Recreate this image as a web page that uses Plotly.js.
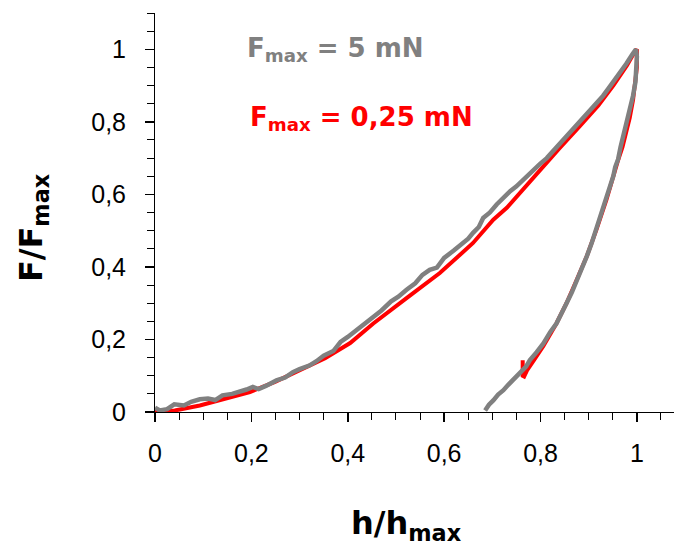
<!DOCTYPE html>
<html>
<head>
<meta charset="utf-8">
<script src="https://cdn.plot.ly/plotly-3.0.1.min.js"></script>
<style>html,body{margin:0;padding:0;background:#fff;}#chart{width:674px;height:548px;}</style>
</head>
<body>
<div id="chart"></div>
<script>
// Fmax = 5 mN (gray) : loading then unloading
const grayH = [0, 0.01, 0.025, 0.04, 0.06, 0.075, 0.093, 0.11, 0.125, 0.14, 0.16, 0.176, 0.19, 0.203, 0.215, 0.23, 0.252, 0.27, 0.286, 0.30, 0.32, 0.335, 0.35, 0.37, 0.385, 0.40, 0.42, 0.44, 0.453, 0.47, 0.49, 0.505, 0.522, 0.54, 0.555, 0.57, 0.585,
  0.60, 0.62, 0.635, 0.65, 0.66, 0.672, 0.681, 0.695, 0.709, 0.722, 0.737, 0.75, 0.771, 0.785, 0.799, 0.813, 0.83, 0.845, 0.861, 0.875, 0.89, 0.902, 0.915, 0.93, 0.94, 0.951, 0.965, 0.978, 0.99, 0.996,
  0.998, 1.0, 0.999, 0.997, 0.992, 0.988, 0.982, 0.977, 0.972, 0.966, 0.961, 0.955, 0.951, 0.944, 0.934, 0.925, 0.916, 0.906, 0.896, 0.886, 0.875, 0.865, 0.854, 0.843, 0.833, 0.82, 0.806, 0.792, 0.778, 0.77, 0.76, 0.75, 0.743, 0.733, 0.723, 0.712, 0.702, 0.693, 0.685];
const grayF = [0.012, 0.004, 0.008, 0.021, 0.018, 0.028, 0.035, 0.037, 0.033, 0.046, 0.05, 0.055, 0.062, 0.069, 0.063, 0.072, 0.087, 0.095, 0.11, 0.118, 0.128, 0.14, 0.155, 0.168, 0.193, 0.207, 0.228, 0.248, 0.263, 0.28, 0.305, 0.318, 0.337, 0.355, 0.378, 0.392, 0.398,
  0.425, 0.445, 0.462, 0.478, 0.494, 0.51, 0.535, 0.55, 0.572, 0.59, 0.609, 0.622, 0.65, 0.665, 0.684, 0.70, 0.725, 0.748, 0.77, 0.79, 0.81, 0.83, 0.85, 0.872, 0.89, 0.909, 0.935, 0.96, 0.985, 1.0,
  1.0, 0.98, 0.94, 0.91, 0.872, 0.85, 0.826, 0.79, 0.761, 0.73, 0.697, 0.675, 0.65, 0.62, 0.586, 0.545, 0.503, 0.465, 0.429, 0.395, 0.364, 0.33, 0.30, 0.27, 0.244, 0.22, 0.189, 0.165, 0.143, 0.125, 0.112, 0.1, 0.087, 0.075, 0.06, 0.048, 0.032, 0.02, 0.004];

// Fmax = 0,25 mN (red) : loading then unloading
const redH = [0, 0.041, 0.093, 0.145, 0.197, 0.249, 0.30, 0.353, 0.405, 0.453, 0.522, 0.591, 0.66, 0.702, 0.73, 0.764, 0.799, 0.84, 0.882, 0.92, 0.951, 0.979, 0.994, 1.0,
  1.0, 0.996, 0.992, 0.985, 0.978, 0.97, 0.96, 0.95, 0.937, 0.916, 0.896, 0.875, 0.854, 0.833, 0.806, 0.785, 0.772, 0.766, 0.763, 0.763];
const redF = [0, 0.004, 0.018, 0.037, 0.055, 0.083, 0.115, 0.148, 0.19, 0.244, 0.314, 0.383, 0.466, 0.53, 0.563, 0.614, 0.669, 0.728, 0.789, 0.845, 0.9, 0.955, 0.99, 1.0,
  0.95, 0.9, 0.86, 0.81, 0.77, 0.73, 0.69, 0.645, 0.586, 0.503, 0.429, 0.364, 0.30, 0.244, 0.182, 0.14, 0.115, 0.098, 0.10, 0.143];

const xTicks = [0, 0.2, 0.4, 0.6, 0.8, 1];
const yTicks = [0, 0.2, 0.4, 0.6, 0.8, 1];
const xTickText = ["0", "0,2", "0,4", "0,6", "0,8", "1"];
const yTickText = ["0", "0,2", "0,4", "0,6", "0,8", "1"];

const traces = [
  {x: redH, y: redF, type: 'scatter', mode: 'lines', line: {color: '#ff0000', width: 4}, hoverinfo: 'skip'},
  {x: grayH, y: grayF, type: 'scatter', mode: 'lines', line: {color: '#808080', width: 4.5}, hoverinfo: 'skip'}
];

const tickFont = {family: 'Liberation Sans, Arial, sans-serif', size: 25, color: '#000'};
const titleFont = {family: 'DejaVu Sans, Verdana, sans-serif', size: 32, color: '#000'};
const noteFamily = 'DejaVu Sans, Verdana, sans-serif';

const layout = {
  width: 674, height: 548,
  margin: {l: 155, r: 0, t: 13, b: 136},
  paper_bgcolor: '#fff', plot_bgcolor: '#fff',
  showlegend: false,
  xaxis: {
    range: [0, 1.077], showgrid: false, zeroline: false,
    showline: true, linecolor: '#000', linewidth: 1,
    ticks: 'outside', ticklen: 9, tickwidth: 1.5, tickcolor: '#000',
    tickvals: xTicks, ticktext: xTickText, tickfont: tickFont,
    ticklabelstandoff: 10,
    minor: {dtick: 0.05, tick0: 0, ticks: 'outside', ticklen: 7, tickwidth: 1, tickcolor: '#000', showgrid: false},
    automargin: false, fixedrange: true
  },
  yaxis: {
    range: [0, 1.1], showgrid: false, zeroline: false,
    showline: true, linecolor: '#000', linewidth: 1,
    ticks: 'outside', ticklen: 9, tickwidth: 1.5, tickcolor: '#000',
    tickvals: yTicks, ticktext: yTickText, tickfont: tickFont,
    ticklabelstandoff: 14,
    minor: {dtick: 0.05, tick0: 0, ticks: 'outside', ticklen: 7, tickwidth: 1, tickcolor: '#000', showgrid: false},
    automargin: false, fixedrange: true
  },
  annotations: [
    {xref: 'paper', yref: 'paper', x: 0.4855, y: -0.283, xanchor: 'center', yanchor: 'middle', showarrow: false,
     text: '<b>h/h<sub>max</sub></b>', font: titleFont},
    {xref: 'paper', yref: 'paper', x: -0.235, y: 0.461, xanchor: 'center', yanchor: 'middle', showarrow: false, textangle: -90,
     text: '<b>F/F<sub>max</sub></b>', font: titleFont},
    {xref: 'x', yref: 'y', x: 0.187, y: 1.0, xanchor: 'left', yanchor: 'middle', showarrow: false,
     text: '<b>F<sub>max</sub> = 5 mN</b>', font: {family: noteFamily, size: 26, color: '#808080'}},
    {xref: 'x', yref: 'y', x: 0.193, y: 0.81, xanchor: 'left', yanchor: 'middle', showarrow: false,
     text: '<b>F<sub>max</sub> = 0,25 mN</b>', font: {family: noteFamily, size: 26, color: '#ff0000'}}
  ]
};

Plotly.newPlot('chart', traces, layout, {staticPlot: true, displayModeBar: false});
</script>
</body>
</html>
